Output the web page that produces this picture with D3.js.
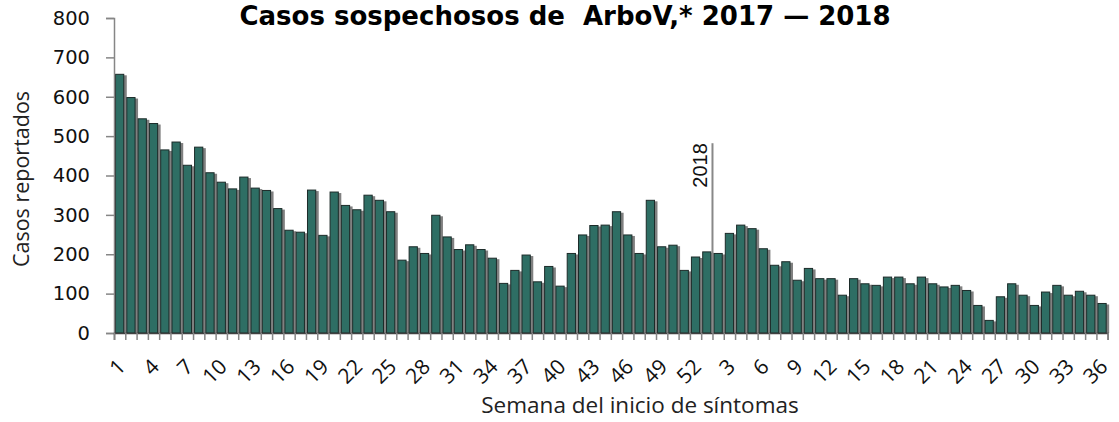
<!DOCTYPE html>
<html>
<head>
<meta charset="utf-8">
<script src="https://cdn.jsdelivr.net/npm/d3@7"></script>
<style>
  body { margin: 0; background: #fff; }
  svg { display: block; }
</style>
</head>
<body>
<svg id="chart"></svg>
<script>
// semanas epidemiológicas
const weeks2017 = d3.range(1, 53);
const weeks2018 = d3.range(1, 37);

// casos por semana
const cases2017 = [657, 598, 544, 532, 465, 485, 426, 472, 407, 383,
  366, 396, 368, 362, 316, 261, 256, 363, 248, 358,
  324, 313, 350, 337, 308, 185, 219, 202, 299, 244,
  212, 224, 212, 190, 126, 159, 198, 130, 169, 119,
  202, 249, 273, 274, 308, 249, 202, 337, 219, 223,
  159, 193];
const cases2018 = [206, 202, 253, 274, 265, 214, 172, 181, 134, 164,
  138, 138, 96, 138, 125, 121, 142, 142, 125, 142,
  125, 117, 121, 108, 70, 32, 92, 125, 96, 70,
  104, 121, 96, 106, 96, 75];

const yTicks = [0, 100, 200, 300, 400, 500, 600, 700, 800];
const title = "Casos sospechosos de  ArboV,* 2017 — 2018";
const yTitle = "Casos reportados";
const xTitle = "Semana del inicio de síntomas";
const markerLabel = "2018";
const markerTopValue = 482;

const w = 1119, h = 422;
const plotLeft = 114, plotRight = 1107.7, plotTop = 18, plotBottom = 333;

const dataset = weeks2017.map(function (wk, i) {
  return { week: wk, cases: cases2017[i] };
}).concat(weeks2018.map(function (wk, i) {
  return { week: wk, cases: cases2018[i] };
}));
dataset.forEach(function (d, i) { d.i = i; });

const svg = d3.select("#chart")
  .attr("width", w)
  .attr("height", h);

const xScale = d3.scaleBand()
  .domain(dataset.map(d => d.i))
  .range([plotLeft, plotRight])
  .paddingInner(0.27)
  .paddingOuter(0.135);
const xIdx = d3.scaleLinear()
  .domain([0, dataset.length])
  .range([plotLeft, plotRight]);
const yScale = d3.scaleLinear()
  .domain([0, 800])
  .range([plotBottom, plotTop]);

// título
svg.append("text")
  .attr("x", 565)
  .attr("y", 24.5)
  .attr("text-anchor", "middle")
  .attr("font-family", "'DejaVu Sans', sans-serif")
  .attr("font-weight", "bold")
  .attr("font-size", "26px")
  .style("white-space", "pre")
  .attr("fill", "#000")
  .text(title);

// sombras
const bw = xScale.bandwidth();
svg.append("g")
  .selectAll("rect")
  .data(dataset)
  .enter()
  .append("rect")
  .attr("x", d => xScale(d.i) + 3)
  .attr("y", d => yScale(d.cases) + 1)
  .attr("width", bw)
  .attr("height", d => plotBottom - yScale(d.cases) - 1)
  .attr("fill", "#808080");

// barras
svg.append("g")
  .selectAll("rect")
  .data(dataset)
  .enter()
  .append("rect")
  .attr("x", d => xScale(d.i))
  .attr("y", d => yScale(d.cases))
  .attr("width", bw)
  .attr("height", d => plotBottom - yScale(d.cases))
  .attr("fill", "#2e6e64")
  .attr("stroke", "#1c2b29")
  .attr("stroke-width", 1);

// eje y
const yAxis = svg.append("g")
  .attr("transform", "translate(" + plotLeft + ",0)")
  .call(d3.axisLeft(yScale).tickValues(yTicks).tickSize(8).tickPadding(16));
yAxis.select(".domain").attr("stroke", "#868686").attr("stroke-width", 1.5);
yAxis.selectAll(".tick line").attr("stroke", "#868686").attr("stroke-width", 1.5);
yAxis.selectAll(".tick text")
  .attr("font-family", "'DejaVu Sans', sans-serif")
  .attr("font-size", "19.5px")
  .attr("fill", "#111");

// eje x
const xAxis = svg.append("g")
  .attr("transform", "translate(0," + plotBottom + ")")
  .call(d3.axisBottom(xIdx).tickValues(d3.range(dataset.length + 1)).tickSize(7).tickFormat(""));
xAxis.select(".domain").attr("stroke", "#404040").attr("stroke-width", 1.5);
xAxis.selectAll(".tick line").attr("stroke", "#868686").attr("stroke-width", 1.5);

svg.append("g")
  .selectAll("text")
  .data(dataset.filter(d => d.i % 3 === 0))
  .enter()
  .append("text")
  .attr("transform", d => "translate(" + (xScale(d.i) + bw / 2 + 7) + "," + 368 + ") rotate(-45)")
  .attr("text-anchor", "end")
  .attr("font-family", "'Open Sans', sans-serif")
  .attr("font-size", "21px")
  .attr("fill", "#111")
  .text(d => d.week);

// marca 2018
const markerX = xIdx(weeks2017.length + 1);
svg.append("line")
  .attr("x1", markerX)
  .attr("x2", markerX)
  .attr("y1", yScale(markerTopValue))
  .attr("y2", plotBottom)
  .attr("stroke", "#888")
  .attr("stroke-width", 2);
svg.append("text")
  .attr("transform", "translate(" + (markerX - 5) + "," + yScale(markerTopValue) + ") rotate(-90)")
  .attr("text-anchor", "end")
  .attr("font-family", "'Liberation Sans', sans-serif")
  .attr("font-size", "20px")
  .attr("fill", "#111")
  .text(markerLabel);

// títulos de ejes
svg.append("text")
  .attr("transform", "translate(29,179) rotate(-90)")
  .attr("text-anchor", "middle")
  .attr("font-family", "'Open Sans', sans-serif")
  .attr("font-size", "21.5px")
  .attr("fill", "#222")
  .text(yTitle);

svg.append("text")
  .attr("x", 640)
  .attr("y", 413)
  .attr("text-anchor", "middle")
  .attr("font-family", "'Open Sans', sans-serif")
  .attr("font-size", "22.5px")
  .attr("fill", "#222")
  .text(xTitle);
</script>
</body>
</html>
